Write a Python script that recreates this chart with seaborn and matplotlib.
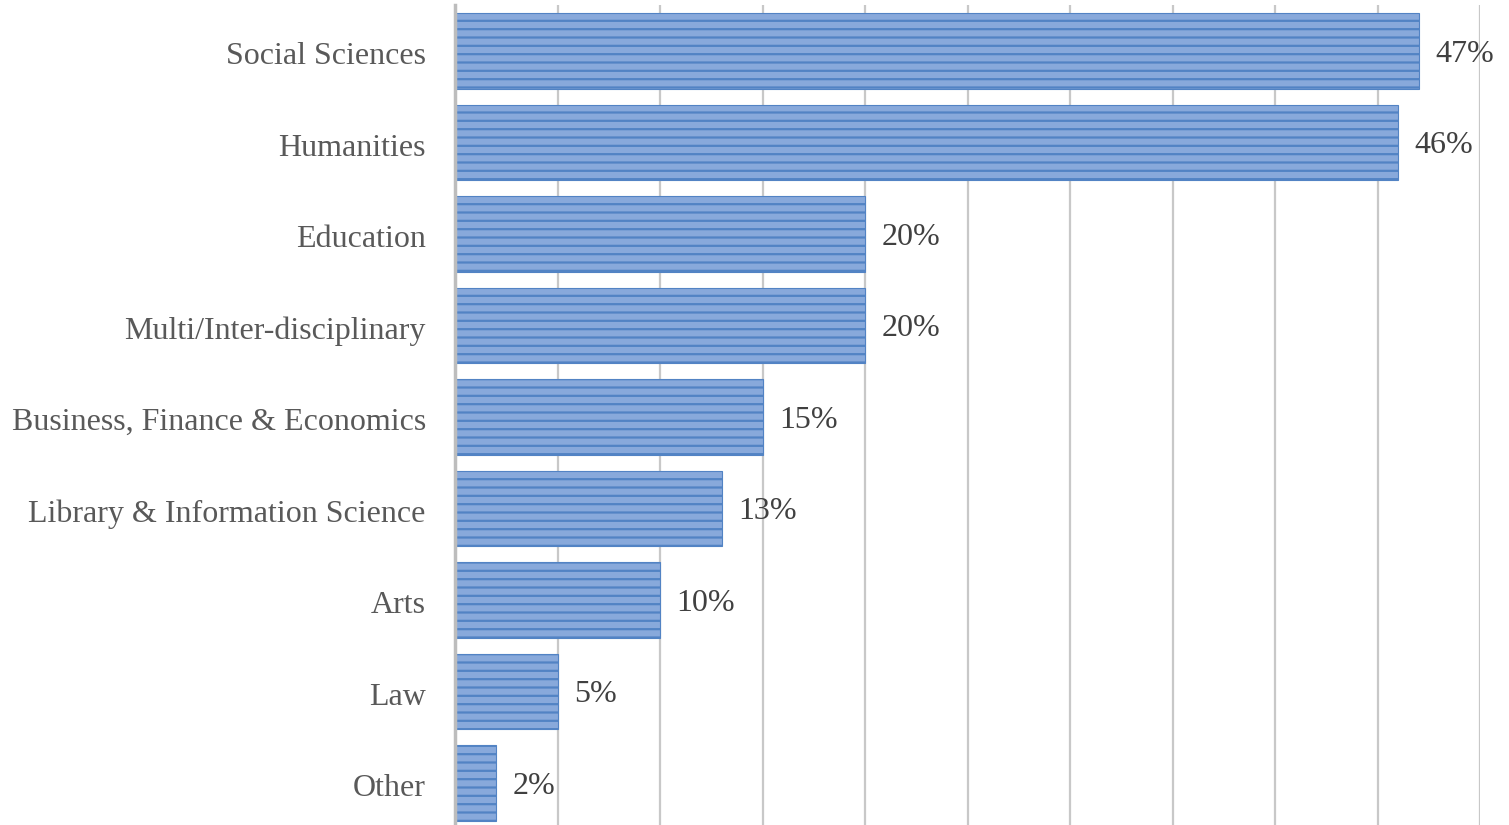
import matplotlib

matplotlib.use("Agg")
import matplotlib.pyplot as plt
import matplotlib.transforms as mtransforms
import pandas as pd
import seaborn as sns

categories = [
    "Social Sciences",
    "Humanities",
    "Education",
    "Multi/Inter-disciplinary",
    "Business, Finance & Economics",
    "Library & Information Science",
    "Arts",
    "Law",
    "Other",
]
shares = [47, 46, 20, 20, 15, 13, 10, 5, 2]

frame = pd.DataFrame({"field": categories, "share": shares})

sns.set_theme(style="white")
plt.rcParams["font.family"] = ["Liberation Serif", "DejaVu Serif"]
plt.rcParams["hatch.linewidth"] = 1.6

W, H = 1509, 825
fig = plt.figure(figsize=(W / 100, H / 100), dpi=100)
ax = fig.add_axes([455 / W, -3.75 / H, (1480 - 455) / W, 823.5 / H])

sns.barplot(
    data=frame,
    x="share",
    y="field",
    orient="h",
    width=0.83,
    color="#88A9DB",
    saturation=1,
    ax=ax,
)
# striped fill like the original office chart
for bar in ax.patches:
    bar.set_facecolor("#88A9DB")
    bar.set_edgecolor("#5283C4")
    bar.set_hatch("--")
    bar.set_linewidth(0.8)

texts = ax.bar_label(
    ax.containers[0],
    labels=[f"{v}%" for v in shares],
    padding=12,
    fontsize=23,
    color="#404040",
)
for t in texts:
    t.xyann = (12, -2.5)

ax.set_xlim(0, 50)
ax.set_xticks(range(0, 51, 5))
ax.set_xticklabels([])
ax.xaxis.grid(True, color="#C8C8C8", linewidth=1.6)
ax.set_axisbelow(True)
ax.set_xlabel("")
ax.set_ylabel("")
ax.tick_params(axis="y", length=0, pad=21, labelsize=23, labelcolor="#595959")
ax.tick_params(axis="x", length=0)
shift = mtransforms.ScaledTranslation(0, -1.5 / 72, fig.dpi_scale_trans)
for label in ax.get_yticklabels():
    label.set_transform(label.get_transform() + shift)
for side in ["top", "right", "bottom"]:
    ax.spines[side].set_visible(False)
ax.spines["left"].set_color("#BDBDBD")
ax.spines["left"].set_linewidth(2.5)

fig.savefig("out.png", dpi=100)
plt.close(fig)
